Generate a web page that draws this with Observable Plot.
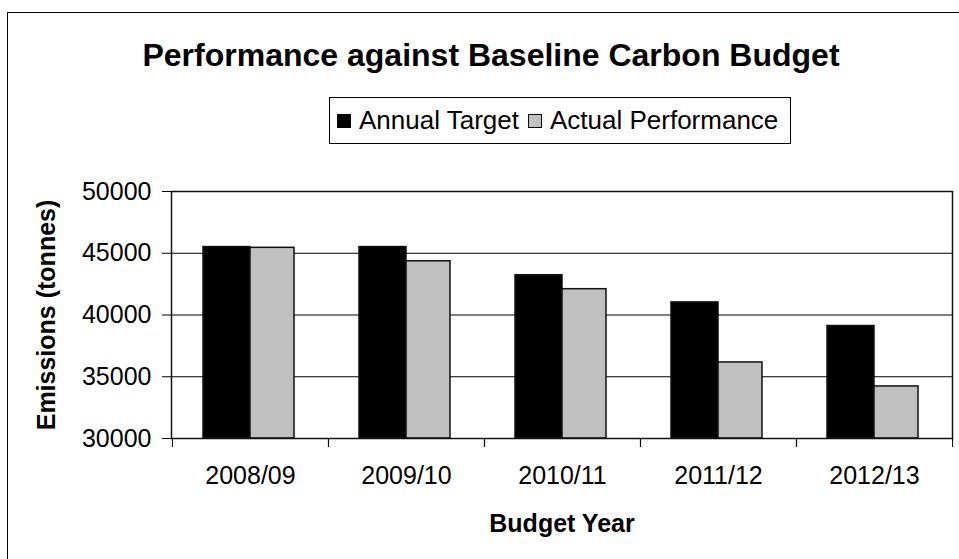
<!DOCTYPE html>
<html>
<head>
<meta charset="utf-8">
<script src="https://cdn.jsdelivr.net/npm/d3@7"></script>
<script src="https://cdn.jsdelivr.net/npm/@observablehq/plot@0.6"></script>
<style>
html, body { margin: 0; padding: 0; background: #fff; }
body { width: 959px; height: 559px; overflow: hidden; position: relative; font-family: "Liberation Sans", Arial, sans-serif; color: #000; }
#frame { position: absolute; left: 7px; top: 12px; width: 1100px; height: 1100px; border: 1.5px solid #000; box-sizing: border-box; z-index: 5; pointer-events: none; }
#header { position: relative; height: 160px; }
#title { position: absolute; left: 0; width: 982px; top: 39px; line-height: 32px; text-align: center; font-weight: bold; font-size: 32px; white-space: nowrap; }
#legend { position: absolute; left: 329px; top: 97px; width: 462px; height: 47px; box-sizing: border-box; border: 1.5px solid #000; background: #fff; display: flex; align-items: center; padding-left: 7px; font-size: 26px; white-space: nowrap; }
.sw { display: inline-block; width: 14px; height: 14px; box-sizing: border-box; border: 1.5px solid #000; margin-right: 8px; }
.item { display: flex; align-items: center; margin-right: 9px; }
#chart { position: absolute; left: 0; top: 160px; }
#chart svg { background: transparent !important; }
svg g[aria-label="x-axis label"] text, svg g[aria-label="y-axis label"] text { font-weight: bold; font-size: 25px; }
</style>
</head>
<body>
<div id="frame"></div>
<div id="header">
  <div id="title">Performance against Baseline Carbon Budget</div>
  <div id="legend"></div>
</div>
<div id="chart"></div>
<script>
// ---- data ----
const years = ["2008/09", "2009/10", "2010/11", "2011/12", "2012/13"];
const annualTarget = [45500, 45500, 43220, 41020, 39110];
const actualPerformance = [45440, 44350, 42090, 36160, 34215];
const seriesNames = ["Annual Target", "Actual Performance"];
const seriesColors = ["#000000", "#c0c0c0"];
const yTicks = [30000, 35000, 40000, 45000, 50000];
const yDomain = [30000, 50000];

const data = years.map((year, i) => ({year, target: annualTarget[i], actual: actualPerformance[i]}));

// legend
const legend = document.getElementById("legend");
seriesNames.forEach((name, i) => {
  const item = document.createElement("span");
  item.className = "item";
  const sw = document.createElement("span");
  sw.className = "sw";
  sw.style.background = seriesColors[i];
  item.appendChild(sw);
  item.appendChild(document.createTextNode(name));
  legend.appendChild(item);
});

const half = 78.1;
const chart = Plot.plot({
  width: 959,
  height: 399,
  marginTop: 31,
  marginBottom: 121,
  marginLeft: 171,
  marginRight: 7,
  style: {fontFamily: "'Liberation Sans', Arial, sans-serif", fontSize: "25px", color: "#000", background: "transparent"},
  x: {domain: years, padding: 0},
  y: {domain: yDomain},
  marks: [
    Plot.gridY(yTicks, {stroke: "#000", strokeOpacity: 1, strokeWidth: 1}),
    Plot.barY(data, {x: "year", y1: () => yDomain[0], y2: "target", fill: seriesColors[0], stroke: "#111", strokeWidth: 1.5, insetLeft: 31, insetRight: 78, clip: true}),
    Plot.barY(data, {x: "year", y1: () => yDomain[0], y2: "actual", fill: seriesColors[1], stroke: "#111", strokeWidth: 1.5, insetLeft: 78, insetRight: 34, clip: true}),
    Plot.frame({stroke: "#111", strokeWidth: 1.5}),
    Plot.axisY({ticks: yTicks, tickSize: 9, tickPadding: 11, tickFormat: d => String(d), label: "Emissions (tonnes)", labelArrow: false, labelAnchor: "center", labelOffset: 134, fontSize: 25, stroke: "#000"}),
    Plot.axisX({tickSize: 9, tickFormat: () => "", label: null, dx: -half, stroke: "#000"}),
    Plot.axisX({tickSize: 9, tickFormat: () => "", label: null, dx: half, stroke: "#000"}),
    Plot.axisX({tickSize: 0, tickPadding: 28, label: "Budget Year", labelArrow: false, labelAnchor: "center", labelOffset: 93, fontSize: 25})
  ]
});
document.getElementById("chart").appendChild(chart);
</script>
</body>
</html>
